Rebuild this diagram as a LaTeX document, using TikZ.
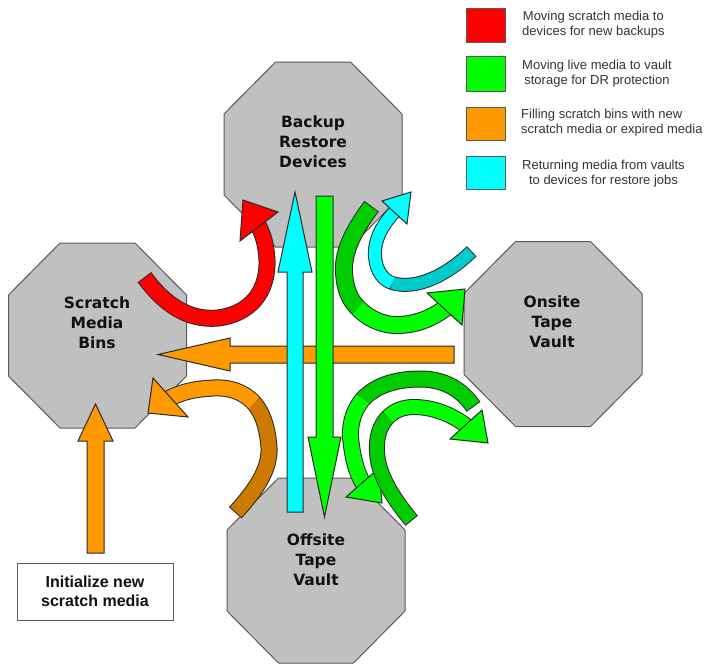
\documentclass[tikz,border=0pt]{standalone}
\usepackage{fontspec}
\setmainfont{Liberation Sans}
\newfontfamily\octfont{DejaVu Sans}
\definecolor{octfill}{HTML}{C0C0C0}
\definecolor{octline}{HTML}{5A5A5A}
\definecolor{arrline}{HTML}{2A2A2A}
\definecolor{cred}{HTML}{FF0000}
\definecolor{cgreen}{HTML}{00FF00}
\definecolor{cdgreen}{HTML}{00CC00}
\definecolor{corange}{HTML}{FF9900}
\definecolor{cdorange}{HTML}{CC7A00}
\definecolor{ccyan}{HTML}{00FFFF}
\definecolor{cdcyan}{HTML}{00CCCC}
\definecolor{txt}{HTML}{111111}
\definecolor{legtxt}{HTML}{333333}
\newcommand\octa[2]{\draw[oct] ({#1-37.5},{#2-92.5}) -- ({#1+37.5},{#2-92.5}) -- ({#1+89},{#2-40.5}) -- ({#1+89},{#2+40.5}) -- ({#1+37.5},{#2+92.5}) -- ({#1-37.5},{#2+92.5}) -- ({#1-89},{#2+40.5}) -- ({#1-89},{#2-40.5}) -- cycle;}
\begin{document}
\begin{tikzpicture}[x=1pt,y=-1pt,
  oct/.style={draw=octline, fill=octfill, line width=1pt},
  octtext/.style={font=\octfont\bfseries\fontsize{15.5}{20}\selectfont, text=txt, align=center, inner sep=0pt},
  legbox/.style={draw=octline, line width=1pt},
  legtext/.style={font=\fontsize{13}{15}\selectfont, text=legtxt, anchor=west, inner sep=0pt},
  initbox/.style={draw=octline, line width=1pt, fill=white, minimum width=156pt, minimum height=57pt, align=center, font=\bfseries\fontsize{16}{19}\selectfont, text=txt},
  blk/.style={draw=arrline, line width=1pt, line join=miter},
  outl/.style={draw=arrline, line cap=butt},
  band/.style={line cap=butt},
  head/.style={draw=arrline, line width=1pt, line join=miter}]
\useasboundingbox (0,0) rectangle (714,664);
\fill[white] (0,0) rectangle (714,664);

% octagons
\octa{313}{154.5}
\octa{97.5}{335.5}
\octa{553}{334}
\octa{316}{570.5}
\node[octtext] (backup) at (313,142) {Backup\\Restore\\Devices};
\node[octtext] (scratch) at (97,323) {Scratch\\Media\\Bins};
\node[octtext] (onsite) at (552,322) {Onsite\\Tape\\Vault};
\node[octtext] (offsite) at (316,560) {Offsite\\Tape\\Vault};

% legend
\draw[legbox, fill=cred] (466,8) rectangle (505,42);
\draw[legbox, fill=cgreen] (466,56) rectangle (505,91);
\draw[legbox, fill=corange] (466,107) rectangle (505,140);
\draw[legbox, fill=ccyan] (466,156) rectangle (505,189);
\node[legtext, align=center] (l1) at (522,25) {Moving scratch media to\\devices for new backups};
\node[legtext, align=center] (l2) at (522,74) {Moving live media to vault\\storage for DR protection};
\node[legtext, align=left] (l3) at (521,123) {Filling scratch bins with new\\scratch media or expired media};
\node[legtext, align=center] (l4) at (522,174) {Returning media from vaults\\to devices for restore jobs};

% initialize box and arrow
\node[initbox] (init) at (95,591.5) {Initialize new\\scratch media};
\draw[blk, fill=corange] (87,553) -- (87,441) -- (78,441) -- (95.5,404) -- (113,441) -- (104,441) -- (104,553) -- cycle;

% straight arrows
\draw[blk, fill=corange] (454,346) -- (230,346) -- (230,338) -- (158,354.5) -- (230,371) -- (230,363) -- (454,363) -- cycle;
\draw[blk, fill=ccyan] (287,512) -- (287,272) -- (278,272) -- (295,192) -- (312,272) -- (303,272) -- (303,512) -- cycle;
\draw[blk, fill=cgreen] (316,196) -- (333,196) -- (333,437) -- (341,437) -- (324.5,517) -- (308,437) -- (316,437) -- cycle;

% red curved arrow (scratch -> devices)
\draw[outl, line width=17pt, shorten <=-1pt] (145,278) .. controls (170,312) and (195,320) .. (218,318) .. controls (250,314) and (268,292) .. (267,260) .. controls (266,245) and (264,236) .. (257,223);
\draw[band, draw=cred, line width=15pt] (145,278) .. controls (170,312) and (195,320) .. (218,318) .. controls (250,314) and (268,292) .. (267,260) .. controls (266,245) and (264,236) .. (257,223);
\filldraw[head, fill=cred] (278,212) -- (243,200) -- (240,241) -- cycle;

% orange curved arrow (offsite -> scratch)
\draw[outl, line width=17pt, shorten <=-1pt] (236,512) .. controls (255,491) and (270,470) .. (269,448) .. controls (268,430) and (263,413) .. (254,403) .. controls (243,391) and (228,387) .. (213,388) .. controls (198,389) and (186,390) .. (168,399);
\draw[band, draw=cdorange, line width=15pt] (236,512) .. controls (255,491) and (270,470) .. (269,448) .. controls (268,430) and (263,413) .. (254,403);
\draw[band, draw=corange, line width=15pt] (254,403) .. controls (243,391) and (228,387) .. (213,388) .. controls (198,389) and (186,390) .. (168,399);
\filldraw[head, fill=corange] (153,378) -- (148,413) -- (188,417) -- cycle;

% green curved arrow (devices -> onsite)
\draw[outl, line width=18pt, shorten <=-1pt] (371,207) .. controls (350,235) and (343,255) .. (344,272) .. controls (345,290) and (350,300) .. (358,308) .. controls (370,320) and (385,326) .. (400,325) .. controls (418,324) and (432,318) .. (447,307);
\draw[band, draw=cdgreen, line width=16pt] (371,207) .. controls (350,235) and (343,255) .. (344,272) .. controls (345,290) and (350,300) .. (358,308);
\draw[band, draw=cgreen, line width=16pt] (358,308) .. controls (370,320) and (385,326) .. (400,325) .. controls (418,324) and (432,318) .. (447,307);
\filldraw[head, fill=cgreen] (427,293) -- (465,289) -- (462,325) -- cycle;

% cyan curved arrow (onsite -> devices)
\draw[outl, line width=14pt, shorten <=-1pt] (471,252) .. controls (445,277) and (415,290) .. (392,283) .. controls (380,279) and (374,265) .. (375,250) .. controls (376,235) and (385,222) .. (396,210);
\draw[band, draw=cdcyan, line width=12pt] (471,252) .. controls (445,277) and (415,290) .. (392,283);
\draw[band, draw=ccyan, line width=12pt] (392,283) .. controls (380,279) and (374,265) .. (375,250) .. controls (376,235) and (385,222) .. (396,210);
\filldraw[head, fill=ccyan] (382,201) -- (411,192) -- (407,224) -- cycle;

% green curved arrow (onsite -> offsite)
\draw[outl, line width=17pt, shorten <=-1pt] (473,406) .. controls (462,390) and (445,379) .. (420,379) .. controls (395,379) and (375,386) .. (363,399) .. controls (352,412) and (349,428) .. (351,442) .. controls (353,458) and (356,472) .. (364,485);
\draw[band, draw=cdgreen, line width=15pt] (473,406) .. controls (462,390) and (445,379) .. (420,379) .. controls (395,379) and (375,386) .. (363,399);
\draw[band, draw=cgreen, line width=15pt] (363,399) .. controls (352,412) and (349,428) .. (351,442) .. controls (353,458) and (356,472) .. (364,485);
\filldraw[head, fill=cgreen] (346,497) -- (382,503) -- (379,468) -- cycle;

% green curved arrow (offsite -> onsite)
\draw[outl, line width=16pt, shorten <=-1pt] (411,520) .. controls (393,498) and (378,475) .. (377,452) .. controls (376,437) and (380,425) .. (388,417) .. controls (395,410) and (404,407) .. (414,407) .. controls (432,407) and (452,414) .. (468,427);
\draw[band, draw=cdgreen, line width=14pt] (411,520) .. controls (393,498) and (378,475) .. (377,452) .. controls (376,437) and (380,425) .. (388,417);
\draw[band, draw=cgreen, line width=14pt] (388,417) .. controls (395,410) and (404,407) .. (414,407) .. controls (432,407) and (452,414) .. (468,427);
\filldraw[head, fill=cgreen] (482,410) -- (488,443) -- (450,439) -- cycle;
\end{tikzpicture}
\end{document}
